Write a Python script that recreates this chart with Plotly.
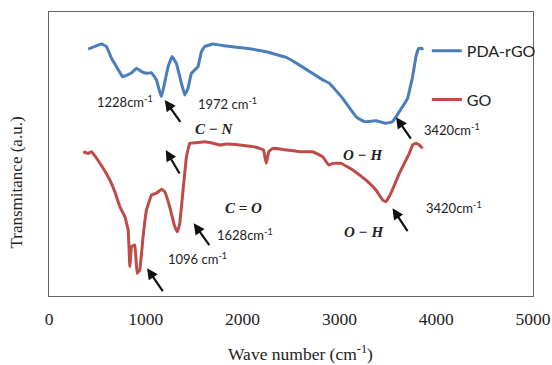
import plotly.graph_objects as go

# ---- data (wave number in cm^-1, transmittance in a.u.) ----
pda_wave = [405, 543, 595, 646, 698, 760, 807, 853, 904, 956, 1007, 1059, 1110, 1144, 1162,
            1186, 1230, 1271, 1316, 1368, 1402, 1436, 1471, 1505, 1539, 1574, 1608, 1694,
            1832, 2038, 2244, 2451, 2588, 2828, 2897, 3034, 3172, 3258, 3378, 3481, 3549,
            3619, 3704, 3756, 3791, 3818, 3853, 3859]
pda_trans = [86.9, 88.7, 87.8, 83.7, 80.7, 77.2, 77.8, 78.6, 80.2, 79.0, 78.4, 78.6, 76.1, 71.9,
             70.2, 73.7, 80.7, 84.3, 81.9, 74.9, 70.8, 73.1, 78.4, 79.6, 80.7, 86.0, 87.8, 88.7,
             88.0, 87.2, 86.0, 84.0, 81.3, 76.1, 74.9, 69.6, 63.1, 61.4, 61.7, 60.8, 61.4,
             64.9, 69.6, 77.2, 84.3, 87.2, 87.2, 86.6]

go_wave = [354, 405, 440, 492, 560, 629, 680, 732, 784, 818, 835, 853, 887, 910, 938, 972,
           1007, 1059, 1110, 1162, 1196, 1247, 1299, 1327, 1351, 1385, 1420, 1454, 1523,
           1608, 1694, 1763, 1832, 1969, 2106, 2175, 2216, 2244, 2271, 2312, 2451, 2588,
           2725, 2828, 2890, 2931, 3018, 3137, 3275, 3378, 3446, 3481, 3533, 3619, 3722,
           3756, 3791, 3825, 3859]
go_trans = [50.8, 50.2, 50.8, 48.5, 45.0, 40.8, 36.7, 31.4, 27.9, 23.2, 10.3, 17.4, 18.0, 8.0,
            9.2, 20.9, 30.3, 35.6, 36.2, 37.6, 36.7, 31.4, 24.4, 22.6, 25.6, 37.3, 49.0, 53.8,
            54.0, 54.3, 53.8, 53.2, 53.5, 53.2, 52.6, 52.0, 51.4, 46.7, 50.8, 52.0, 51.4, 50.8,
            50.8, 49.0, 46.1, 46.7, 46.7, 44.4, 40.8, 37.3, 33.8, 33.2, 36.2, 43.2, 50.2,
            53.2, 53.8, 53.2, 52.0]

x_ticks = [0, 1000, 2000, 3000, 4000, 5000]

# peak labels: (text, x, y)
label_texts = ["1228cm<sup>-1</sup>", "1972 cm<sup>-1</sup>", "3420cm<sup>-1</sup>",
               "1628cm<sup>-1</sup>", "1096 cm<sup>-1</sup>", "3420cm<sup>-1</sup>"]
label_x = [784, 1845, 4168, 2028, 1539, 4186]
label_y = [68.4, 67.9, 58.5, 21.8, 13.3, 31.2]

bond_texts = ["C − N", "O − H", "C = O", "O − H"]
bond_x = [1711, 3240, 2010, 3251]
bond_y = [58.7, 49.6, 30.9, 22.6]

# arrows: head (x, y) and tail (x, y)
arrow_head_x = [1196, 1206, 1495, 1013, 3585, 3549]
arrow_head_y = [69.0, 51.4, 25.6, 9.8, 62.9, 30.9]
arrow_tail_x = [1368, 1358, 1667, 1186, 3749, 3714]
arrow_tail_y = [60.8, 42.6, 17.4, 1.2, 54.9, 22.3]

fig = go.Figure()
fig.add_trace(go.Scatter(x=pda_wave, y=pda_trans, mode="lines", name="PDA-rGO",
                         legendgroup="a",
                         line=dict(color="#4A7EBB", width=3, shape="spline", smoothing=0.2)))
fig.add_trace(go.Scatter(x=go_wave, y=go_trans, mode="lines", name="GO",
                         legendgroup="b",
                         line=dict(color="#BE4B48", width=3, shape="spline", smoothing=0.2)))

annotations = []
for t, x, y in zip(label_texts, label_x, label_y):
    annotations.append(dict(x=x, y=y, xref="x", yref="y", text=t, showarrow=False,
                            font=dict(family="Lato", size=13, color="#222")))
for t, x, y in zip(bond_texts, bond_x, bond_y):
    annotations.append(dict(x=x, y=y, xref="x", yref="y", text="<b><i>" + t + "</i></b>",
                            showarrow=False,
                            font=dict(family="Liberation Serif", size=15, color="#222")))
for hx, hy, tx, ty in zip(arrow_head_x, arrow_head_y, arrow_tail_x, arrow_tail_y):
    annotations.append(dict(x=hx, y=hy, ax=tx, ay=ty, xref="x", yref="y", axref="x", ayref="y",
                            text="", showarrow=True, arrowhead=2, arrowsize=1, arrowwidth=2.2,
                            arrowcolor="#111"))

annotations.append(dict(x=-0.068, y=0.40, xref="paper", yref="paper", text="Transmitance (a.u.)",
                        textangle=-90, showarrow=False, xanchor="center", yanchor="middle",
                        font=dict(family="Liberation Serif", size=17, color="#222")))
annotations.append(dict(x=0.52, y=-0.202, xref="paper", yref="paper",
                        text="Wave number (cm<sup>-1</sup>)",
                        showarrow=False, xanchor="center", yanchor="middle",
                        font=dict(family="Liberation Serif", size=17.5, color="#222")))

fig.update_layout(
    width=552, height=365,
    margin=dict(l=49, r=18, t=12, b=69),
    paper_bgcolor="white", plot_bgcolor="white",
    showlegend=True,
    legend=dict(x=0.779, y=0.923, xanchor="left", yanchor="top",
                font=dict(family="Lato", size=16, color="#222"),
                tracegroupgap=25, bgcolor="rgba(0,0,0,0)"),
    annotations=annotations,
    xaxis=dict(range=[0, 5000], tickvals=x_ticks, ticktext=[str(v) for v in x_ticks],
               showgrid=False, zeroline=False, showline=True, mirror=True,
               linecolor="#666", linewidth=1, ticks="", automargin=False,
               ticklabelstandoff=7,
               tickfont=dict(family="Liberation Serif", size=17.5, color="#222")),
    yaxis=dict(range=[0, 100], showticklabels=False, showgrid=False, zeroline=False,
               showline=True, mirror=True, linecolor="#666", linewidth=1, ticks="",
               automargin=False),
)

fig.write_html("out.html", post_script="document.body.style.margin='0';",
               config={"displayModeBar": False})
